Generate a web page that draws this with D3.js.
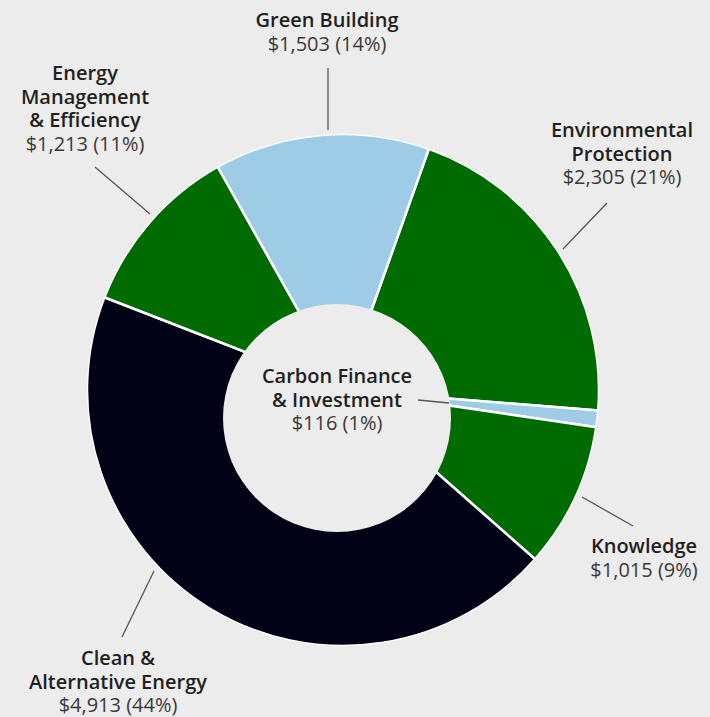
<!DOCTYPE html>
<html>
<head>
<meta charset="utf-8">
<script src="https://cdn.jsdelivr.net/npm/d3@7"></script>
<style>
html,body{margin:0;padding:0;background:#ececec;}
svg{display:block;}
.lbl{font-family:"Open Sans",sans-serif;fill:#231f20;}
.lbl .t{font-weight:600;}
.lbl .v{font-weight:400;fill:#3b3838;}
</style>
</head>
<body>
<svg width="710" height="717"></svg>
<script>
// ===== DATA =====
const categories = ["Environmental Protection","Carbon Finance & Investment","Knowledge","Clean & Alternative Energy","Energy Management & Efficiency","Green Building"]
const values = [2305,116,1015,4913,1213,1503]
const percents = ["21%","1%","9%","44%","11%","14%"]
const colors = ["#006b00","#9ecbe6","#006b00","#020217","#006b00","#9ecbe6"]
const labelLines = [
  ["Environmental","Protection"],
  ["Carbon Finance","& Investment"],
  ["Knowledge"],
  ["Clean &","Alternative Energy"],
  ["Energy","Management","& Efficiency"],
  ["Green Building"]
]

const svg = d3.select("svg")
const cx = 343, cy = 390, R = 256
const holeX = 337, holeY = 418, holeR = 114

const start = 19.6*Math.PI/180
const pie = d3.pie().sort(null).startAngle(start).endAngle(start+2*Math.PI)
const arcs = pie(values)
const arc = d3.arc().innerRadius(0).outerRadius(R)

const g = svg.append("g").attr("transform",`translate(${cx},${cy})`)

g.selectAll("path")
.data(arcs)
.enter()
.append("path")
.attr("d",arc)
.attr("fill",(d,i)=>colors[i])
.attr("stroke","#ffffff")
.attr("stroke-width",2.5)
.attr("stroke-linejoin","round")

// hole
svg.append("circle")
.attr("cx",holeX).attr("cy",holeY).attr("r",holeR)
.attr("fill","#ececec")

// outer edge cleanup (hide white stroke against background)
g.append("circle").attr("r",R+1.2).attr("fill","none").attr("stroke","#ececec").attr("stroke-width",2.4)

// ===== LABELS =====
const fmt = d3.format(",")
const labelPos = [
  {x:622,y:137},
  {x:337,y:383},
  {x:644,y:553},
  {x:118,y:665},
  {x:85,y:80},
  {x:327,y:27}
]
const leaders = [
  [[607,203],[563,249]],
  [[418,400],[449,403]],
  [[582,497],[633,526]],
  [[154,571],[122,637]],
  [[95,167],[150,214]],
  [[328,68],[328,130]]
]
const lh = 23.5

labelLines.forEach((lines,i)=>{
  const t = svg.append("text")
  .attr("class","lbl")
  .attr("text-anchor","middle")
  .attr("font-size",20)
  lines.forEach((s,j)=>{
    t.append("tspan").attr("class","t")
    .attr("x",labelPos[i].x).attr("y",labelPos[i].y+j*lh).text(s)
  })
  t.append("tspan").attr("class","v")
  .attr("x",labelPos[i].x).attr("y",labelPos[i].y+lines.length*lh)
  .text("$"+fmt(values[i])+" ("+percents[i]+")")

  svg.append("line")
  .attr("x1",leaders[i][0][0]).attr("y1",leaders[i][0][1])
  .attr("x2",leaders[i][1][0]).attr("y2",leaders[i][1][1])
  .attr("stroke","#555").attr("stroke-width",1.3)
})
</script>
</body>
</html>
